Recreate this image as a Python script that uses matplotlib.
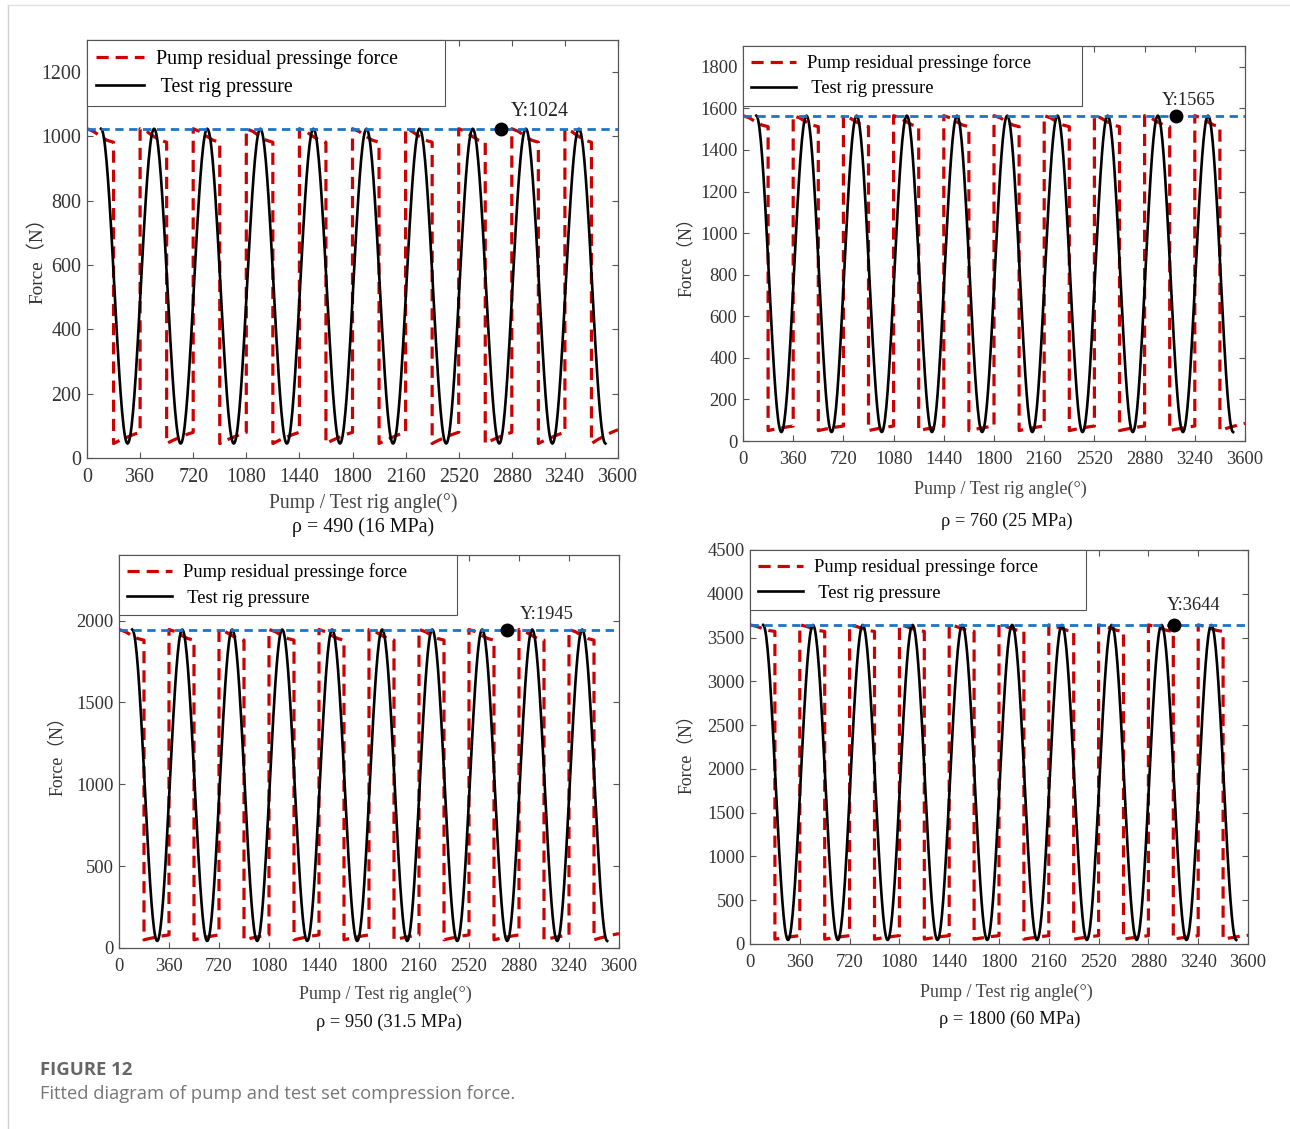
import numpy as np
import matplotlib
matplotlib.use("Agg")
from matplotlib import pyplot as plt

plt.rcParams['font.family'] = ['Liberation Serif', 'Noto Sans CJK SC']

# angle windows of the pump force (high pressure side)
high_start = [0, 360, 720, 1080, 1440, 1800, 2160, 2520, 2880, 3240]
high_end = [180, 540, 900, 1260, 1620, 1980, 2340, 2700, 3060, 3420]
axis_end = 3600

# extrema of the test rig curve
rig_peak_angle = [95, 455, 815, 1175, 1535, 1895, 2255, 2615, 2975, 3335]
rig_trough_angle = [275, 635, 995, 1355, 1715, 2075, 2435, 2795, 3155, 3515]

# per panel values
peak = [1024, 1565, 1945, 3644]
high_drop = [982, 1512, 1880, 3570]
low_start = [45, 50, 50, 55]
low_end = [80, 72, 80, 95]
low_last = [88, 85, 88, 100]
trough = [45, 43, 43, 46]
mark_angle = [2807, 3105, 2794, 3065]
titles = ["ρ = 490 (16 MPa)", "ρ = 760 (25 MPa)", "ρ = 950 (31.5 MPa)", "ρ = 1800 (60 MPa)"]
y_top = [1300, 1900, 2400, 4500]
y_ticks = [[0, 200, 400, 600, 800, 1000, 1200],
           [0, 200, 400, 600, 800, 1000, 1200, 1400, 1600, 1800],
           [0, 500, 1000, 1500, 2000],
           [0, 500, 1000, 1500, 2000, 2500, 3000, 3500, 4000, 4500]]
x_ticks = [0, 360, 720, 1080, 1440, 1800, 2160, 2520, 2880, 3240, 3600]

# shape of the pump force inside a window (fraction of window, fraction of change)
seg_t = [0, 0.25, 0.5, 0.75, 1.0]
high_f = [0, 0.2, 0.55, 0.85, 1.0]
low_f = [0, 0.3, 0.55, 0.8, 1.0]

W, H = 1290, 1129
fig = plt.figure(figsize=(W / 100, H / 100), dpi=100)

# axes boxes in pixels: left, top, right, bottom
boxes = [(87, 40, 618, 458), (743, 46, 1245, 441), (119, 555, 619, 948), (750, 550, 1248, 944)]
fsize = [14.4, 13.3, 13.3, 13.3]
ylab_pos = [(37, 256), (686, 253), (57, 752), (686, 750)]
xlab_pos = [(363, 503), (1000, 489), (385, 994), (1006, 992)]
title_pos = [(363, 527), (1007, 521), (389, 1022), (1010, 1019)]
mark_off = [(10, 17), (-14, 15), (13, 15), (-7, 19)]

for i in range(4):
    l, t, r, b = boxes[i]
    ax = fig.add_axes([l / W, 1 - b / H, (r - l) / W, (b - t) / H])
    fs = fsize[i]

    # pump residual force
    xs, ys = [], []
    for k in range(len(high_start)):
        a, e = high_start[k], high_end[k]
        for tt, f in zip(seg_t, high_f):
            xs.append(a + tt * (e - a))
            ys.append(peak[i] - f * (peak[i] - high_drop[i]))
        if k < len(high_start) - 1:
            c, v = high_start[k + 1], low_end[i]
        else:
            c, v = axis_end, low_last[i]
        for tt, f in zip(seg_t, low_f):
            xs.append(e + tt * (c - e))
            ys.append(low_start[i] + f * (v - low_start[i]))
    ax.plot(xs, ys, color='#cc0000', lw=2.3, dashes=(3.8, 2.2),
            label='Pump residual pressinge force', zorder=3)

    # test rig curve through the extrema
    ext = sorted([(a, peak[i]) for a in rig_peak_angle] + [(a, trough[i]) for a in rig_trough_angle])
    bx, by = [], []
    for (a0, v0), (a1, v1) in zip(ext[:-1], ext[1:]):
        xx = np.linspace(a0, a1, 40)
        bx.extend(xx)
        by.extend(v1 + (v0 - v1) * (1 + np.cos(np.pi * (xx - a0) / (a1 - a0))) / 2)
    ax.plot(bx, by, color='black', lw=1.9, label=' Test rig pressure', zorder=4)

    ax.axhline(peak[i], color='#1a75c9', lw=2, dashes=(3, 2), zorder=5)
    ax.plot([mark_angle[i]], [peak[i]], 'o', color='black', ms=9, zorder=6)
    ax.annotate('Y:%d' % peak[i], (mark_angle[i], peak[i]), xytext=(mark_off[i][0] * 0.72, mark_off[i][1] * 0.72),
                textcoords='offset points', ha='left', va='center', fontsize=fs, color='#222')

    ax.set_xlim(0, axis_end)
    ax.set_ylim(0, y_top[i])
    ax.set_xticks(x_ticks)
    ax.set_yticks(y_ticks[i])
    ax.tick_params(direction='in', top=True, right=True, length=4, width=0.8,
                   labelsize=fs, colors='#555', labelcolor='#333')
    ax.tick_params(axis='x', pad=7)
    ax.tick_params(axis='y', pad=4)
    for s in ax.spines.values():
        s.set_color('#555')
        s.set_linewidth(0.9)

    leg = ax.legend(loc='upper left', bbox_to_anchor=(0, 0.5, 0.675, 0.5), mode='expand',
                    borderaxespad=0, fancybox=False, fontsize=fs, handlelength=2.4,
                    handletextpad=0.6, borderpad=0.45, labelspacing=0.45, framealpha=1)
    leg.get_frame().set_edgecolor('#555')
    leg.get_frame().set_linewidth(0.8)

    fig.text(ylab_pos[i][0] / W, 1 - ylab_pos[i][1] / H, 'Force（N）', rotation=90,
             ha='center', va='center', fontsize=fs - 0.5, color='#333')
    fig.text(xlab_pos[i][0] / W, 1 - xlab_pos[i][1] / H, 'Pump / Test rig angle(°)',
             ha='center', va='center', fontsize=fs - 0.3, color='#444')
    fig.text(title_pos[i][0] / W, 1 - title_pos[i][1] / H, titles[i],
             ha='center', va='center', fontsize=fs, color='#111')

# caption
fig.text(40 / W, 1 - 1070 / H, 'FIGURE 12', fontsize=13.3, fontweight='bold',
         color='#666', family='Open Sans', va='center')
fig.text(40 / W, 1 - 1094 / H, 'Fitted diagram of pump and test set compression force.',
         fontsize=13.2, color='#777', family='Open Sans', va='center')

# page border
fig.add_artist(plt.Line2D([8 / W, 8 / W], [0, 1 - 5 / H], transform=fig.transFigure, color='#d0d0d0', lw=1))
fig.add_artist(plt.Line2D([8 / W, 1], [1 - 5 / H, 1 - 5 / H], transform=fig.transFigure, color='#e0e0e0', lw=1))

fig.savefig('out.png', dpi=100)
